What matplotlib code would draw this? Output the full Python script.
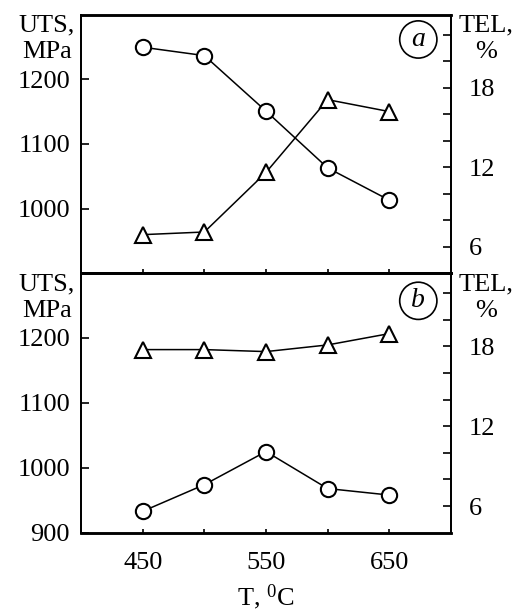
import matplotlib.pyplot as plt

plt.rcParams["font.family"] = "Liberation Serif"
plt.rcParams["mathtext.fontset"] = "custom"
plt.rcParams["mathtext.rm"] = "Liberation Serif"
plt.rcParams["mathtext.it"] = "Liberation Serif:italic"

# Temperatures, deg C
temps = [450, 500, 550, 600, 650]

# panel a
uts_a = [1250, 1237, 1151, 1063, 1013]
tel_a = [6.9, 7.1, 11.6, 17.1, 16.2]

# panel b
uts_b = [933, 974, 1025, 968, 958]
tel_b = [17.75, 17.75, 17.6, 18.1, 18.95]

x_labels = [450, 550, 650]
uts_ticks = [900, 1000, 1100, 1200]
tel_ticks = [6, 8, 10, 12, 14, 16, 18, 20, 22]
tel_labels = [6, 12, 18]

fs = 19

fig = plt.figure(figsize=(5.2, 6.13), dpi=100)
ax_a = fig.add_axes([0.156, 0.5546, 0.711, 0.421])
ax_b = fig.add_axes([0.156, 0.131, 0.711, 0.4236])


def setup(ax, uts, tel, letter, show_900, ly):
    ax2 = ax.twinx()
    ax.plot(temps, uts, "-", color="black", lw=1.1, marker="o", ms=11,
            mfc="white", mec="black", mew=1.5, zorder=3)
    ax2.plot(temps, tel, "-", color="black", lw=1.1, marker="^", ms=11,
             mfc="white", mec="black", mew=1.5, zorder=3)

    ax.set_xlim(400, 700)
    ax.set_ylim(900, 1300)
    ax2.set_ylim(4, 23.5)

    ax.set_xticks(temps)
    ax.set_xticklabels([str(t) if t in x_labels else "" for t in temps])
    lt = uts_ticks if show_900 else uts_ticks[1:]
    ax.set_yticks(lt)
    ax.set_yticklabels([str(v) for v in lt])
    ax2.set_yticks(tel_ticks)
    ax2.set_yticklabels([str(v) if v in tel_labels else "" for v in tel_ticks])

    ax.tick_params(axis="x", direction="in", length=3, width=1.2, pad=14,
                   labelsize=fs)
    ax.tick_params(axis="y", direction="in", length=6, width=1.2, pad=8,
                   labelsize=fs)
    ax2.tick_params(axis="y", direction="in", length=6, width=1.2, pad=13,
                    labelsize=fs)

    for a in (ax, ax2):
        a.spines["left"].set_linewidth(1.3)
        a.spines["right"].set_linewidth(1.3)
        a.spines["top"].set_linewidth(1.8)
        a.spines["bottom"].set_linewidth(1.8)

    # panel letter in a circle, upper right corner
    ax.text(0.912, ly, letter, transform=ax.transAxes, fontsize=fs + 1,
            style="italic", ha="center", va="center", zorder=5,
            bbox=dict(boxstyle="circle,pad=0.22", fc="white", ec="black",
                      lw=1.2))
    return ax2


ax2_a = setup(ax_a, uts_a, tel_a, "a", False, 0.905)
ax2_b = setup(ax_b, uts_b, tel_b, "b", True, 0.893)
ax_a.tick_params(axis="x", labelbottom=False)

# axis captions
for ytop in (14, 273):
    fig.text(47 / 520, 1 - ytop / 613, "UTS,\nMPa", fontsize=fs,
             ha="center", va="top", linespacing=1.3)
    fig.text(486 / 520, 1 - ytop / 613, "TEL,\n%", fontsize=fs,
             ha="center", va="top", linespacing=1.3)

fig.text(266 / 520, 1 - 597 / 613, r"T, $^{0}$C", fontsize=fs,
         ha="center", va="center")

fig.savefig("out.png", dpi=100)
